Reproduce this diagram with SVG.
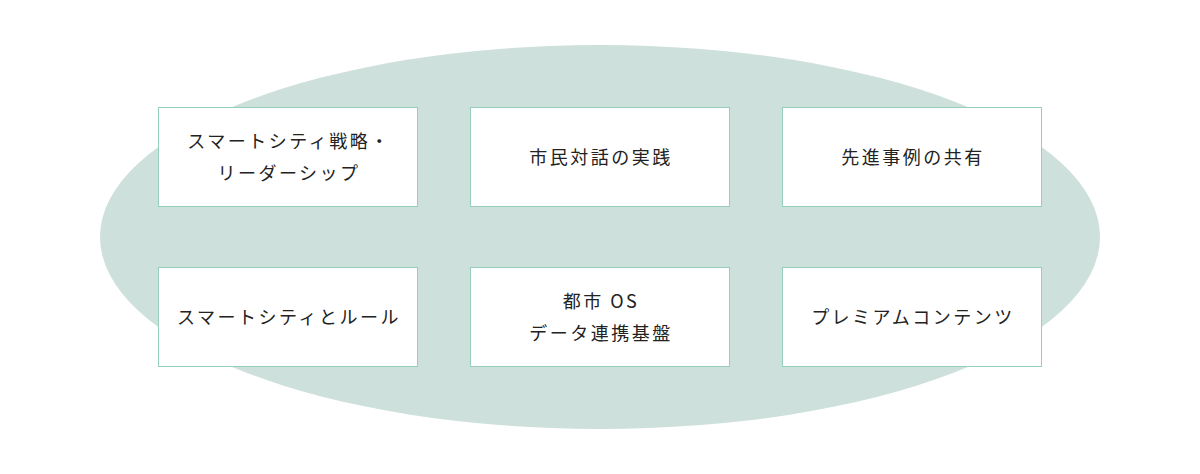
<svg xmlns="http://www.w3.org/2000/svg" width="1200" height="474" viewBox="0 0 1200 474">
<style>
.b{fill:#fff;stroke:#95cfbb;stroke-width:1}
.t{font-family:"Noto Sans CJK JP","Noto Sans",sans-serif;font-size:18px;fill:#222;text-anchor:middle;letter-spacing:2.5px}
</style>
<rect width="1200" height="474" fill="#fff"/>
<ellipse cx="600" cy="237" rx="500" ry="192" fill="#cee0db"/>
<g id="n1"><rect class="b" x="158.5" y="107.5" width="259" height="99"/><text class="t" x="289" y="148">スマートシティ戦略・</text><text class="t" x="289" y="180">リーダーシップ</text></g>
<g id="n2"><rect class="b" x="470.5" y="107.5" width="259" height="99"/><text class="t" x="601" y="164">市民対話の実践</text></g>
<g id="n3"><rect class="b" x="782.5" y="107.5" width="259" height="99"/><text class="t" x="913" y="164">先進事例の共有</text></g>
<g id="n4"><rect class="b" x="158.5" y="267.5" width="259" height="99"/><text class="t" x="289" y="324">スマートシティとルール</text></g>
<g id="n5"><rect class="b" x="470.5" y="267.5" width="259" height="99"/><text class="t" x="601" y="308">都市 OS</text><text class="t" x="601" y="340">データ連携基盤</text></g>
<g id="n6"><rect class="b" x="782.5" y="267.5" width="259" height="99"/><text class="t" x="913" y="324">プレミアムコンテンツ</text></g>
<g id="connectors"/>
</svg>
